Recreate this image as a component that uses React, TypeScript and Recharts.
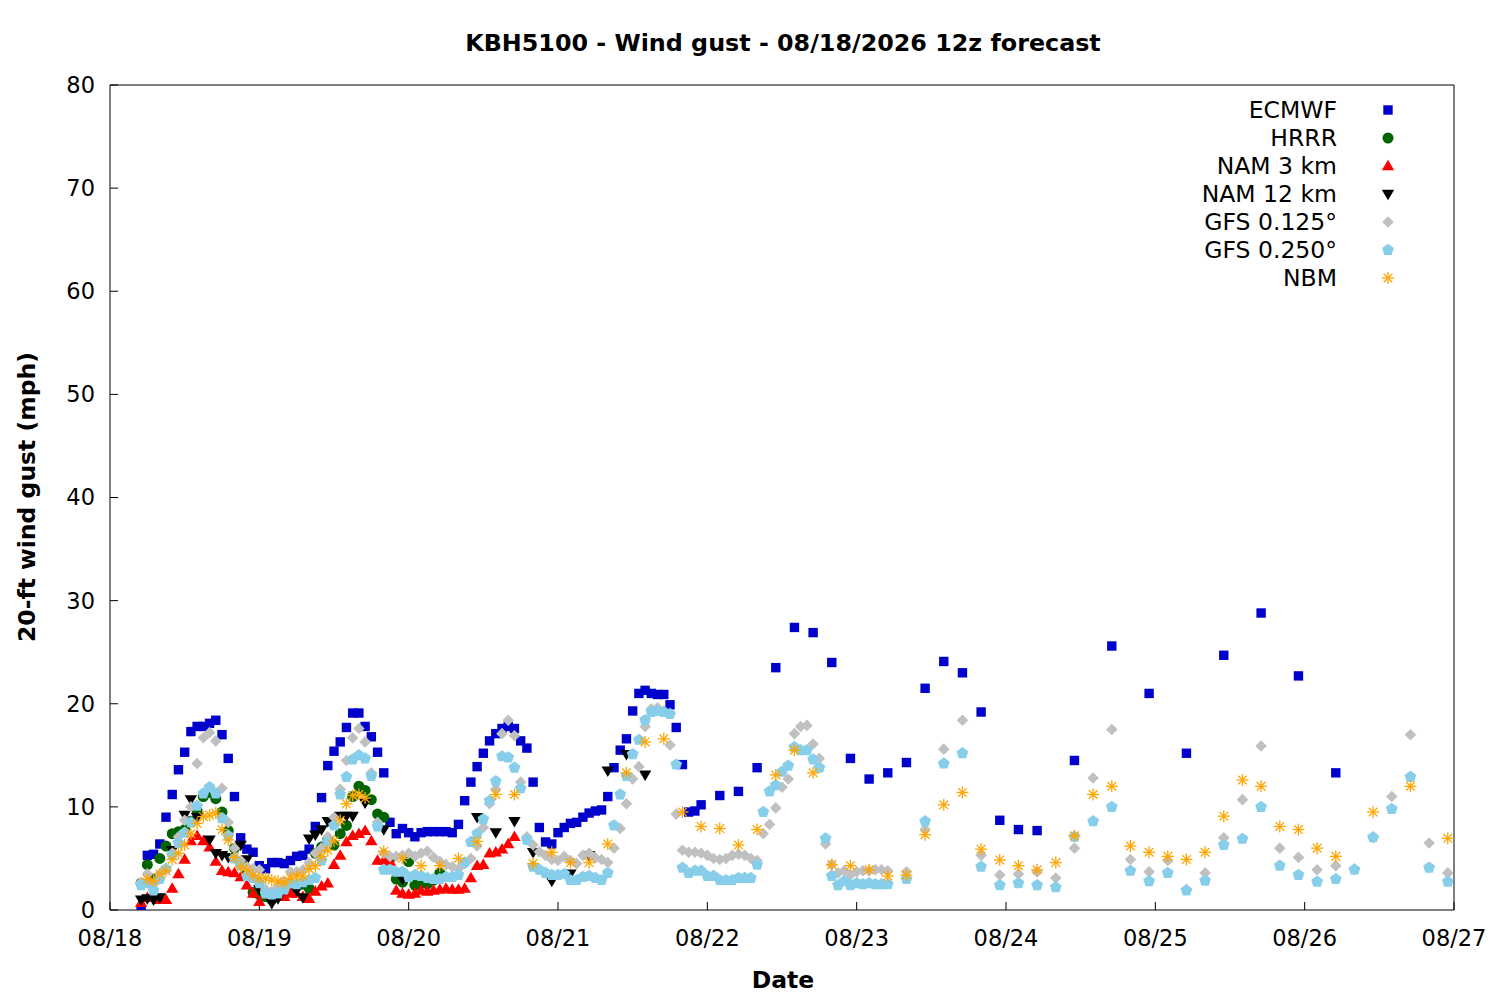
import { ScatterChart, Scatter, XAxis, YAxis, Legend } from "recharts";

const FONT = "DejaVu Sans";

// x = hours since 08/18 00 local time (the 12z run starts at hour 5)
const dayTicks = [0, 24, 48, 72, 96, 120, 144, 168, 192, 216];
const dayLabels = ["08/18", "08/19", "08/20", "08/21", "08/22", "08/23", "08/24", "08/25", "08/26", "08/27"];
const yTicks = [0, 10, 20, 30, 40, 50, 60, 70, 80];

// ECMWF: hourly 5..95, 3-hourly 98..149, 6-hourly 155..197
const ecmwfHourly = [
  0.0, 5.3, 5.4, 6.4, 9.0, 11.2, 13.6, 15.3, 17.3, 17.8, 17.8, 18.1, 18.4, 17.0, 14.7, 11.0, 7.0, 5.9, 5.6,
  4.3, 4.0, 4.6, 4.6, 4.5, 4.8, 5.2, 5.3, 5.9, 8.1, 10.9, 14.0, 15.4, 16.3, 17.7, 19.1, 19.1, 17.8, 16.8,
  15.3, 13.3, 8.5, 7.4, 7.9, 7.5, 7.1, 7.5, 7.6, 7.6, 7.6, 7.6, 7.5, 8.3, 10.6, 12.4, 13.9, 15.2, 16.4,
  17.1, 17.6, 17.8, 17.6, 16.4, 15.7, 12.4, 8.0, 6.6, 6.4, 7.5, 8.0, 8.4, 8.5, 9.0, 9.4, 9.6, 9.7, 11.0,
  13.8, 15.5, 16.6, 19.3, 21.0, 21.3, 21.0, 20.9, 20.9, 19.9, 17.7, 14.1, 9.5, 9.6, 10.2,
];
const ecmwf3h = [11.1, 11.5, 13.8, 23.5, 27.4, 26.9, 24.0, 14.7, 12.7, 13.3, 14.3, 21.5, 24.1, 23.0, 19.2, 8.7, 7.8, 7.7];
const ecmwf6h = [14.5, 25.6, 21.0, 15.2, 24.7, 28.8, 22.7, 13.3];

// HRRR: hourly 5..53
const hrrrHourly = [
  2.6, 4.4, 3.0, 5.0, 6.2, 7.4, 7.6, 7.8, 8.6, 9.6, 11.0, 11.4, 10.8, 9.5, 7.7, 6.0, 4.6, 3.5, 1.7, 1.5,
  1.3, 1.0, 1.5, 1.6, 2.0, 2.3, 2.5, 2.1, 5.5, 6.1, 6.8, 6.3, 7.4, 8.2, 11.0, 12.0, 11.6, 10.7, 9.3, 9.0,
  5.0, 3.0, 2.7, 4.7, 2.4, 2.6, 2.5, 2.9, 3.6,
];

// NAM 3 km: hourly 5..65
const nam3Hourly = [
  0.7, 1.2, 1.3, 1.0, 1.0, 2.1, 3.5, 4.9, 6.7, 7.2, 6.7, 6.1, 4.7, 3.8, 3.7, 3.6, 3.2, 2.4, 1.6, 0.8,
  1.6, 1.5, 1.5, 1.3, 1.6, 1.6, 1.3, 1.1, 1.8, 2.3, 2.6, 4.4, 5.3, 6.6, 7.2, 7.4, 7.7, 6.7, 4.8, 4.8,
  4.7, 1.9, 1.6, 1.5, 1.6, 1.9, 1.8, 1.9, 2.0, 2.1, 2.0, 2.0, 2.1, 3.1, 4.3, 4.4, 5.5, 5.6, 5.9, 6.4, 7.1,
];

// NAM 12 km: only the visible points
const nam12Hours = [5, 6, 7, 8, 10, 12, 13, 14, 16, 17, 18, 19, 21, 22, 24, 26, 27, 30, 31, 32, 33, 34, 35, 37, 38, 39, 41, 44, 47, 59, 62, 65, 68, 71, 74, 77, 80, 83, 86];
const nam12Values = [1.0, 1.1, 1.0, 1.2, 5.8, 9.2, 10.7, 9.0, 6.8, 5.5, 5.3, 5.1, 6.3, 4.9, 2.0, 0.65, 1.1, 1.9, 1.2, 6.9, 7.3, 7.8, 8.6, 9.1, 9.1, 9.1, 10.4, 7.8, 3.0, 9.0, 7.5, 8.6, 5.6, 2.8, 3.5, 5.3, 13.5, 15.1, 13.1];

// GFS 0.125: hourly 5..125, 3-hourly 128..215
const gfs125Hourly = [
  2.7, 3.5, 2.5, 3.5, 4.0, 5.5, 7.1, 8.7, 10.0, 14.2, 16.7, 17.2, 16.4, 11.8, 8.5, 6.0, 4.8, 4.2, 4.0, 3.9,
  2.0, 1.8, 2.2, 2.8, 3.7, 3.7, 3.9, 4.6, 5.5, 6.0, 7.1, 9.0, 11.7, 14.5, 16.7, 17.6, 16.3, 13.3, 8.5, 5.5,
  5.2, 5.2, 5.3, 5.5, 5.2, 5.5, 5.7, 5.1, 4.7, 4.4, 4.2, 4.0, 4.5, 5.0, 6.2, 8.0, 10.3, 11.7, 17.1, 18.4,
  16.9, 12.4, 7.1, 6.3, 5.65, 5.3, 4.9, 4.8, 5.2, 4.8, 4.5, 5.3, 5.5, 5.05, 4.9, 4.6, 6.0, 7.9, 10.3, 12.7,
  13.9, 17.8, 19.5, 19.6, 19.3, 16.0, 9.3, 5.8, 5.6, 5.6, 5.5, 5.3, 5.0, 4.9, 5.0, 5.3, 5.4, 5.3, 5.0, 4.8,
  7.4, 8.3, 9.9, 11.9, 12.7, 17.1, 17.8, 17.9, 16.1, 14.7, 6.4, 4.4, 3.6, 3.8, 3.4, 3.7, 3.8, 3.8, 3.9, 3.9, 3.8,
];
const gfs1253h = [
  3.7, 7.8, 15.6, 18.4, 5.3, 3.4, 3.5, 3.7, 3.1, 6.0, 12.8, 17.5, 4.9, 3.7, 4.8, 2.0, 3.6, 7.0, 10.7, 15.9,
  6.0, 5.1, 3.9, 4.3, 4.0, 7.0, 11.0, 17.0, 6.5, 3.6,
];

// GFS 0.250: hourly 5..125, 3-hourly 128..215
const gfs250Hourly = [
  2.4, 2.6, 1.9, 3.0, 4.0, 5.3, 6.5, 7.5, 8.5, 10.1, 11.3, 11.9, 11.3, 8.9, 7.2, 5.0, 4.3, 3.3, 3.1, 2.6,
  1.6, 1.5, 1.6, 2.0, 2.6, 2.5, 2.7, 2.9, 3.1, 4.8, 6.6, 8.2, 11.2, 12.9, 14.6, 15.0, 14.7, 13.0, 8.1, 3.9,
  3.9, 3.7, 3.7, 3.2, 3.4, 3.3, 3.1, 3.0, 3.0, 3.2, 3.2, 3.4, 4.6, 6.6, 7.4, 8.8, 10.6, 12.5, 14.9, 14.8,
  13.8, 11.8, 6.8, 4.2, 3.9, 3.6, 3.4, 3.4, 3.5, 2.9, 2.9, 3.2, 3.3, 3.1, 2.9, 3.6, 8.2, 11.2, 13.0, 15.1,
  16.5, 18.4, 19.2, 19.3, 19.2, 19.0, 14.1, 4.1, 3.6, 3.8, 3.8, 3.3, 3.3, 2.9, 2.9, 2.9, 3.1, 3.1, 3.1, 4.4,
  9.5, 11.5, 12.1, 13.4, 14.0, 15.8, 15.5, 15.5, 14.6, 13.8, 6.95, 3.3, 2.4, 2.8, 2.4, 2.6, 2.5, 2.6, 2.5, 2.5, 2.5,
];
const gfs2503h = [
  3.0, 8.6, 14.2, 15.2, 4.2, 2.4, 2.6, 2.4, 2.2, 7.1, 8.6, 10.0, 3.8, 2.8, 3.6, 1.9, 2.85, 6.3, 6.9, 10.0,
  4.3, 3.4, 2.75, 3.0, 3.9, 7.05, 9.8, 12.9, 4.1, 2.75,
];

// NBM: hourly 6..41, 3-hourly 44..197, 6-hourly 203..215
const nbmHourly = [
  2.98, 2.85, 3.5, 3.8, 4.9, 5.5, 6.3, 7.4, 8.4, 9.05, 9.2, 9.4, 7.8, 6.8, 5.1, 4.2, 3.9, 3.4, 3.1, 3.1,
  2.9, 2.8, 2.65, 3.1, 3.3, 3.3, 4.0, 4.3, 5.2, 5.8, 6.7, 8.7, 10.3, 11.1, 11.2, 10.85,
];
const nbm3h = [
  5.7, 5.0, 4.3, 4.3, 5.0, 6.65, 11.2, 11.2, 4.5, 5.6, 4.6, 4.6, 6.4, 13.3, 16.3, 16.6, 9.5, 8.1, 7.9, 6.3,
  7.8, 13.1, 15.5, 13.3, 4.4, 4.3, 3.9, 3.3, 3.4, 7.3, 10.2, 11.4, 5.9, 4.85, 4.3, 3.9, 4.6, 7.2, 11.2, 12.0,
  6.2, 5.6, 5.2, 4.9, 5.6, 9.1, 12.6, 12.0, 8.1, 7.8, 6.0, 5.2,
];
const nbm6h = [9.5, 12.0, 6.95];

const pts = (start: number, step: number, vals: number[]) => vals.map((y, i) => ({ x: start + i * step, y }));

const ecmwfData = [...pts(5, 1, ecmwfHourly), ...pts(98, 3, ecmwf3h), ...pts(155, 6, ecmwf6h)];
const hrrrData = pts(5, 1, hrrrHourly);
const nam3Data = pts(5, 1, nam3Hourly);
const nam12Data = nam12Hours.map((x, i) => ({ x, y: nam12Values[i] }));
const gfs125Data = [...pts(5, 1, gfs125Hourly), ...pts(128, 3, gfs1253h)];
const gfs250Data = [...pts(5, 1, gfs250Hourly), ...pts(128, 3, gfs2503h)];
const nbmData = [...pts(6, 1, nbmHourly), ...pts(44, 3, nbm3h), ...pts(203, 6, nbm6h)];

const C = {
  ecmwf: "#0000cd",
  hrrr: "#006400",
  nam3: "#ff0000",
  nam12: "#000000",
  gfs125: "#c0c0c0",
  gfs250: "#87ceeb",
  nbm: "#ffa500",
};

function Marker({ kind, cx, cy }: { kind: string; cx: number; cy: number }) {
  switch (kind) {
    case "square":
      return <rect x={cx - 4.7} y={cy - 4.7} width={9.4} height={9.4} fill={C.ecmwf} />;
    case "circle":
      return <circle cx={cx} cy={cy} r={5.5} fill={C.hrrr} />;
    case "up":
      return <polygon points={`${cx},${cy - 6.2} ${cx + 6.2},${cy + 4.3} ${cx - 6.2},${cy + 4.3}`} fill={C.nam3} />;
    case "down":
      return <polygon points={`${cx},${cy + 6.2} ${cx + 6.2},${cy - 4.3} ${cx - 6.2},${cy - 4.3}`} fill={C.nam12} />;
    case "diamond":
      return <polygon points={`${cx},${cy - 5.8} ${cx + 5.8},${cy} ${cx},${cy + 5.8} ${cx - 5.8},${cy}`} fill={C.gfs125} />;
    case "pentagon": {
      const p = [0, 1, 2, 3, 4]
        .map((k) => {
          const a = -Math.PI / 2 + (k * 2 * Math.PI) / 5;
          return `${cx + 6.2 * Math.cos(a)},${cy + 6.2 * Math.sin(a)}`;
        })
        .join(" ");
      return <polygon points={p} fill={C.gfs250} />;
    }
    default: {
      const r = 6;
      return (
        <g stroke={C.nbm} strokeWidth={1.3}>
          <line x1={cx - r} y1={cy} x2={cx + r} y2={cy} />
          <line x1={cx} y1={cy - r} x2={cx} y2={cy + r} />
          <line x1={cx - r * 0.72} y1={cy - r * 0.72} x2={cx + r * 0.72} y2={cy + r * 0.72} />
          <line x1={cx - r * 0.72} y1={cy + r * 0.72} x2={cx + r * 0.72} y2={cy - r * 0.72} />
        </g>
      );
    }
  }
}

const series = [
  { name: "ECMWF", kind: "square", data: ecmwfData },
  { name: "HRRR", kind: "circle", data: hrrrData },
  { name: "NAM 3 km", kind: "up", data: nam3Data },
  { name: "NAM 12 km", kind: "down", data: nam12Data },
  { name: "GFS 0.125°", kind: "diamond", data: gfs125Data },
  { name: "GFS 0.250°", kind: "pentagon", data: gfs250Data },
  { name: "NBM", kind: "star", data: nbmData },
];

const renderLegend = () => (
  <svg width={220} height={200} style={{ display: "block" }}>
    {series.map((s, i) => (
      <g key={s.name}>
        <text x={147} y={18 + 28 * i} textAnchor="end" dominantBaseline="central" fontFamily={FONT} fontSize={23.5} fill="#000">
          {s.name}
        </text>
        <Marker kind={s.kind} cx={198} cy={18 + 28 * i} />
      </g>
    ))}
  </svg>
);

const tickStyle = { fill: "#000", fontSize: 22.5, fontFamily: FONT };

export default function App() {
  return (
    <div style={{ position: "absolute", left: 0, top: 0, width: 1500, height: 1000, background: "#fff" }}>
      <ScatterChart width={1500} height={1000} margin={{ top: 75, right: 36, bottom: 60, left: 50 }}>
        <XAxis
          xAxisId="b"
          type="number"
          dataKey="x"
          domain={[0, 216]}
          ticks={dayTicks}
          interval={0}
          allowDataOverflow
          tickFormatter={(v: number) => dayLabels[dayTicks.indexOf(v)]}
          height={30}
          tickSize={-8}
          tickMargin={28}
          stroke="#000"
          tick={tickStyle}
          label={{
            content: () => (
              <text x={783} y={980} textAnchor="middle" dominantBaseline="central" fontFamily={FONT} fontWeight="bold" fontSize={23.5} fill="#000">
                Date
              </text>
            ),
          }}
        />
        <XAxis
          xAxisId="t"
          orientation="top"
          type="number"
          domain={[0, 216]}
          ticks={dayTicks}
          interval={0}
          allowDataOverflow
          height={10}
          tickSize={-8}
          tick={false}
          stroke="#000"
          label={{
            content: () => (
              <text x={783} y={43} textAnchor="middle" dominantBaseline="central" fontFamily={FONT} fontWeight="bold" fontSize={23.8} fill="#000">
                KBH5100 - Wind gust - 08/18/2026 12z forecast
              </text>
            ),
          }}
        />
        <YAxis
          yAxisId="l"
          type="number"
          dataKey="y"
          domain={[0, 80]}
          ticks={yTicks}
          interval={0}
          allowDataOverflow
          width={60}
          tickSize={-8}
          tickMargin={23}
          stroke="#000"
          tick={tickStyle}
          label={{
            content: () => (
              <text
                x={27}
                y={497}
                transform="rotate(-90 27 497)"
                textAnchor="middle"
                dominantBaseline="central"
                fontFamily={FONT}
                fontWeight="bold"
                fontSize={23.5}
                fill="#000"
              >
                20-ft wind gust (mph)
              </text>
            ),
          }}
        />
        <YAxis
          yAxisId="r"
          orientation="right"
          type="number"
          domain={[0, 80]}
          ticks={yTicks}
          interval={0}
          allowDataOverflow
          width={10}
          tickSize={-8}
          tick={false}
          stroke="#000"
        />
        <Legend
          layout="vertical"
          align="center"
          verticalAlign="middle"
          content={renderLegend}
          wrapperStyle={{ left: 1190, top: 92, width: 220, height: 200 }}
        />
        {series.map((s) => (
          <Scatter
            key={s.name}
            name={s.name}
            data={s.data}
            xAxisId="b"
            yAxisId="l"
            isAnimationActive={false}
            shape={(p: any) => <Marker kind={s.kind} cx={p.cx} cy={p.cy} />}
          />
        ))}
      </ScatterChart>
    </div>
  );
}
